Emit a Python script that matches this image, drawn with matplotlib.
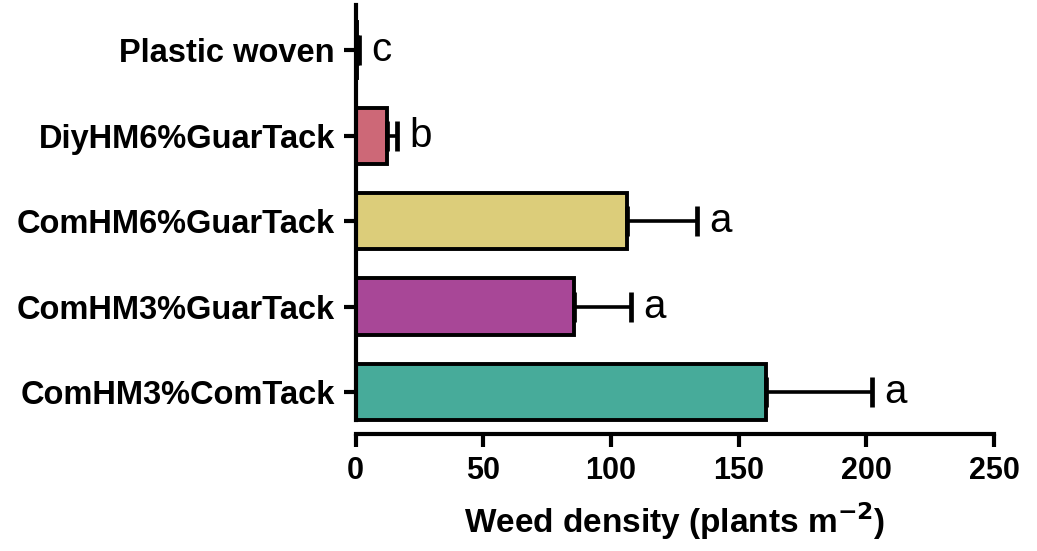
import matplotlib
matplotlib.use("Agg")
import matplotlib.pyplot as plt
import numpy as np

# data (top to bottom as in the figure)
treatments = ['Plastic woven', 'DiyHM6%GuarTack', 'ComHM6%GuarTack',
              'ComHM3%GuarTack', 'ComHM3%ComTack']
density = [0.6, 12.4, 106.2, 85.4, 160.7]
err = [0.7, 3.7, 27.4, 22.4, 41.5]
letters = ['c', 'b', 'a', 'a', 'a']
colors = ['#ffffff', '#cd6877', '#dccd7a', '#a84797', '#47ab9a']

plt.rcParams['font.family'] = ['Liberation Sans', 'DejaVu Sans']

fig = plt.figure(figsize=(10.37, 5.51), dpi=100)
ax = fig.add_axes([0.343, 0.2124, 0.6155, 0.7786])

ypos = np.arange(len(treatments))[::-1]
ax.barh(ypos, density, height=0.66, color=colors, edgecolor='black',
        linewidth=2.8, zorder=2)
ax.errorbar(density, ypos, xerr=[np.zeros(len(err)), err], fmt='none',
            ecolor='black', elinewidth=2.6, capsize=11, capthick=3.4, zorder=3)

for y, v, e, l in zip(ypos, density, err, letters):
    ax.annotate(l, (v + e, y), xytext=(9, 0), textcoords='offset points',
                ha='left', va='center', fontsize=29)

ax.set_xlim(0, 250)
ax.set_ylim(-0.49, 4.53)
ax.set_xticks([0, 50, 100, 150, 200, 250])
ax.set_yticks(ypos)
ax.set_yticklabels(treatments, fontsize=23.5, fontweight='bold')
for t in ax.get_xticklabels():
    t.set_fontsize(22)
    t.set_fontweight('bold')

ax.set_xlabel('Weed density (plants m$^{\\mathbf{-2}}$)', fontsize=24,
              fontweight='bold', labelpad=10)

ax.spines['top'].set_visible(False)
ax.spines['right'].set_visible(False)
ax.spines['left'].set_linewidth(3)
ax.spines['bottom'].set_linewidth(3)
ax.spines['left'].set_bounds(-0.33, 4.53)
ax.tick_params(axis='both', width=3, length=9, direction='out')
ax.tick_params(axis='y', pad=6)
ax.tick_params(axis='x', pad=7)

fig.savefig('out.png', dpi=100)
